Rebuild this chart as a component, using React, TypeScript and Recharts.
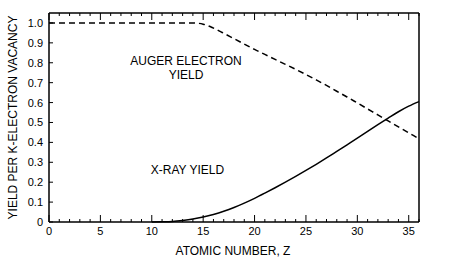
import { LineChart, Line, XAxis, YAxis, Customized } from 'recharts'

// atomic number Z on the x axis
const atomicNumber = [
  0, 1, 2, 3, 4, 5, 6, 7, 8, 9, 10, 11, 12, 13, 14, 15, 16, 17, 18, 19, 20,
  21, 22, 23, 24, 25, 26, 27, 28, 29, 30, 31, 32, 33, 34, 35, 36,
]

// fluorescence (x-ray) yield
const xrayYield = [
  null, null, null, null, null, null, null, null, null, null, 0, 0.001, 0.003,
  0.008, 0.015, 0.025, 0.038, 0.054, 0.073, 0.095, 0.119, 0.145, 0.172, 0.2,
  0.229, 0.259, 0.29, 0.322, 0.355, 0.388, 0.421, 0.455, 0.489, 0.522, 0.554,
  0.582, 0.605,
]

// auger electron yield
const augerYield = [
  1, 1, 1, 1, 1, 1, 1, 1, 1, 1, 1, 1, 1, 1, 1, 0.994, 0.974, 0.948, 0.921,
  0.894, 0.867, 0.842, 0.817, 0.792, 0.767, 0.741, 0.714, 0.686, 0.657, 0.628,
  0.598, 0.568, 0.538, 0.508, 0.478, 0.448, 0.418,
]

const xTicks = atomicNumber
const yTicks = [0, 0.1, 0.2, 0.3, 0.4, 0.5, 0.6, 0.7, 0.8, 0.9, 1.0]

const data = atomicNumber.map((z, i) => ({
  z,
  xray: xrayYield[i],
  auger: augerYield[i],
}))

const FONT = '"Liberation Sans", Arial, Helvetica, sans-serif'

function BottomTick({ x, y, payload }: any) {
  const major = payload.value % 5 === 0
  return (
    <g>
      <line x1={x} y1={y} x2={x} y2={y - (major ? 7 : 3)} stroke="#000" strokeWidth={1} />
      {major && (
        <text x={x} y={y + 13} textAnchor="middle" fontSize={11} fontFamily={FONT} fill="#000">
          {payload.value}
        </text>
      )}
    </g>
  )
}

function TopTick({ x, y, payload }: any) {
  const major = payload.value % 5 === 0
  return <line x1={x} y1={y} x2={x} y2={y + (major ? 7 : 3)} stroke="#000" strokeWidth={1} />
}

function LeftTick({ x, y, payload }: any) {
  const v = payload.value
  const label = v === 0 ? '0' : v.toFixed(1)
  return (
    <g>
      <line x1={x} y1={y} x2={x + 4} y2={y} stroke="#000" strokeWidth={1} />
      <text x={x - 6} y={y} dy="0.36em" textAnchor="end" fontSize={11} fontFamily={FONT} fill="#000">
        {label}
      </text>
    </g>
  )
}

function RightTick({ x, y }: any) {
  return <line x1={x} y1={y} x2={x - 4} y2={y} stroke="#000" strokeWidth={1} />
}

function Annotations() {
  const t = { fontSize: 12, fontFamily: FONT, fill: '#000', textAnchor: 'middle' as const }
  return (
    <g>
      <text x={186} y={64.5} {...t}>AUGER ELECTRON</text>
      <text x={186} y={78.5} {...t}>YIELD</text>
      <text x={187.5} y={173.5} {...t}>X-RAY YIELD</text>
      <text x={233} y={255} {...t}>ATOMIC NUMBER, Z</text>
      <text x={16.5} y={117.5} transform="rotate(-90 16.5 117.5)" {...t}>
        YIELD PER K-ELECTRON VACANCY
      </text>
    </g>
  )
}

export default function App() {
  const axisLine = { stroke: '#000', strokeWidth: 1.5 }
  return (
    <div style={{ position: 'absolute', left: 0, top: 0, background: '#fff' }}>
      <LineChart
        width={452}
        height={266}
        data={data}
        margin={{ top: 12, right: 32, bottom: 43, left: 48 }}
      >
        <XAxis
          xAxisId="bottom"
          dataKey="z"
          type="number"
          domain={[0, 36]}
          ticks={xTicks}
          interval={0}
          height={1}
          tickSize={0}
          tickMargin={0}
          tickLine={false}
          axisLine={axisLine}
          tick={(p: any) => <BottomTick {...p} />}
        />
        <XAxis
          xAxisId="top"
          orientation="top"
          dataKey="z"
          type="number"
          domain={[0, 36]}
          ticks={xTicks}
          interval={0}
          height={1}
          tickSize={0}
          tickMargin={0}
          tickLine={false}
          axisLine={axisLine}
          tick={(p: any) => <TopTick {...p} />}
        />
        <YAxis
          yAxisId="left"
          type="number"
          domain={[0, 1.05]}
          ticks={yTicks}
          interval={0}
          width={1}
          tickSize={0}
          tickMargin={0}
          tickLine={false}
          axisLine={axisLine}
          tick={(p: any) => <LeftTick {...p} />}
        />
        <YAxis
          yAxisId="right"
          orientation="right"
          type="number"
          domain={[0, 1.05]}
          ticks={yTicks}
          interval={0}
          width={1}
          tickSize={0}
          tickMargin={0}
          tickLine={false}
          axisLine={axisLine}
          tick={(p: any) => <RightTick {...p} />}
        />
        <Line
          xAxisId="bottom"
          yAxisId="left"
          type="monotone"
          dataKey="auger"
          stroke="#000"
          strokeWidth={1.5}
          strokeDasharray="6 4"
          dot={false}
          isAnimationActive={false}
        />
        <Line
          xAxisId="bottom"
          yAxisId="left"
          type="monotone"
          dataKey="xray"
          stroke="#000"
          strokeWidth={1.5}
          dot={false}
          connectNulls={false}
          isAnimationActive={false}
        />
        <Customized component={<Annotations />} />
      </LineChart>
    </div>
  )
}
